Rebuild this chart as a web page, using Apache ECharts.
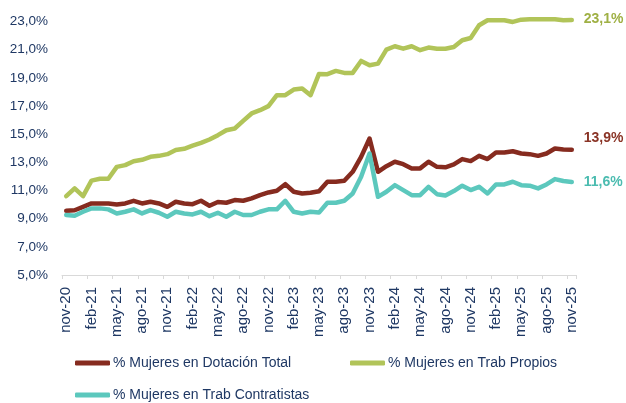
<!DOCTYPE html>
<html>
<head>
<meta charset="utf-8">
<script src="https://cdn.jsdelivr.net/npm/echarts@6/dist/echarts.min.js"></script>
<style>
  html, body { margin: 0; padding: 0; background: #fff; }
  #chart { width: 626px; height: 403px; }
</style>
</head>
<body>
<div id="chart"></div>
<script>
// meses (eje x)
var meses = [
  'nov-20','dic-20','ene-21','feb-21','mar-21','abr-21','may-21','jun-21','jul-21','ago-21','sep-21','oct-21',
  'nov-21','dic-21','ene-22','feb-22','mar-22','abr-22','may-22','jun-22','jul-22','ago-22','sep-22','oct-22',
  'nov-22','dic-22','ene-23','feb-23','mar-23','abr-23','may-23','jun-23','jul-23','ago-23','sep-23','oct-23',
  'nov-23','dic-23','ene-24','feb-24','mar-24','abr-24','may-24','jun-24','jul-24','ago-24','sep-24','oct-24',
  'nov-24','dic-24','ene-25','feb-25','mar-25','abr-25','may-25','jun-25','jul-25','ago-25','sep-25','oct-25',
  'nov-25'
];

// % Mujeres en Dotación Total
var dotacionTotal = [
  9.56, 9.6, 9.84, 10.08, 10.08, 10.08, 10.0, 10.08, 10.27, 10.08, 10.2, 10.08,
  9.84, 10.2, 10.08, 10.03, 10.27, 9.92, 10.18, 10.13, 10.32, 10.27, 10.44, 10.67,
  10.86, 10.98, 11.45, 10.91, 10.79, 10.84, 10.95, 11.62, 11.62, 11.69, 12.33, 13.39,
  14.69, 12.33, 12.73, 13.04, 12.87, 12.57, 12.57, 13.04, 12.68, 12.65, 12.85, 13.23,
  13.09, 13.46, 13.23, 13.7, 13.7, 13.79, 13.63, 13.58, 13.46, 13.63, 13.98, 13.91,
  13.9
];

// % Mujeres en Trab Propios
var trabPropios = [
  10.6, 11.15, 10.6, 11.7, 11.83, 11.83, 12.68, 12.8, 13.08, 13.18, 13.39, 13.46,
  13.58, 13.87, 13.96, 14.18, 14.38, 14.62, 14.93, 15.28, 15.4, 15.94, 16.47, 16.7,
  16.99, 17.77, 17.77, 18.17, 18.24, 17.77, 19.28, 19.26, 19.49, 19.35, 19.35, 20.2,
  19.89, 20.01, 21.0, 21.24, 21.07, 21.24, 20.96, 21.15, 21.07, 21.07, 21.19, 21.67,
  21.83, 22.73, 23.09, 23.09, 23.09, 22.97, 23.13, 23.16, 23.16, 23.16, 23.16, 23.09,
  23.1
];

// % Mujeres en Trab Contratistas
var trabContratistas = [
  9.26, 9.21, 9.49, 9.73, 9.73, 9.66, 9.37, 9.49, 9.66, 9.37, 9.61, 9.42,
  9.14, 9.49, 9.37, 9.3, 9.49, 9.18, 9.42, 9.14, 9.49, 9.26, 9.26, 9.49,
  9.66, 9.66, 10.27, 9.49, 9.37, 9.49, 9.43, 10.13, 10.13, 10.27, 10.79, 11.97,
  13.63, 10.55, 10.91, 11.38, 11.03, 10.67, 10.67, 11.26, 10.74, 10.65, 10.96, 11.34,
  11.03, 11.26, 10.79, 11.43, 11.43, 11.62, 11.38, 11.34, 11.15, 11.43, 11.81, 11.67,
  11.6
];

var nombres = ['% Mujeres en Dotación Total', '% Mujeres en Trab Propios', '% Mujeres en Trab Contratistas'];
var colores = ['#862b1f', '#b1c459', '#5cc8bd'];
var coloresEtiqueta = ['#8a3426', '#9fb044', '#4bbcb0'];
var azul = '#1f3864';
var fuente = 'Liberation Sans';

function pct(v) {
  return v.toFixed(1).replace('.', ',') + '%';
}

var chart = echarts.init(document.getElementById('chart'));

function leyenda(nombre, left, top) {
  return {
    data: [nombre],
    left: left,
    top: top,
    icon: 'roundRect',
    itemWidth: 35,
    itemHeight: 5,
    itemGap: 0,
    padding: 0,
    textStyle: { color: azul, fontFamily: fuente, fontSize: 14, padding: [0, 0, 0, -2] }
  };
}

function serie(i, datos, offsetY) {
  return {
    name: nombres[i],
    type: 'line',
    data: datos,
    symbol: 'none',
    clip: false,
    lineStyle: { width: 4.5, color: colores[i], cap: 'round', join: 'round' },
    itemStyle: { color: colores[i] },
    endLabel: {
      show: true,
      distance: 12,
      offset: [0, offsetY],
      color: coloresEtiqueta[i],
      fontFamily: fuente,
      fontSize: 14,
      fontWeight: 'bold',
      formatter: function (p) { return pct(p.value); }
    }
  };
}

var option = {
  animation: false,
  backgroundColor: '#fff',
  grid: { left: 62, right: 50, top: 21.5, bottom: 128 },
  legend: [
    leyenda(nombres[0], 75, 356),
    leyenda(nombres[1], 350, 356),
    leyenda(nombres[2], 75, 388)
  ],
  xAxis: {
    type: 'category',
    data: meses,
    boundaryGap: true,
    axisLine: { lineStyle: { color: '#d9d9d9', width: 1 } },
    axisTick: { show: true, interval: 2, length: 4, lineStyle: { color: '#d9d9d9' } },
    axisLabel: {
      interval: 2,
      rotate: 90,
      margin: 12,
      color: azul,
      fontFamily: fuente,
      fontSize: 15
    },
    splitLine: { show: false }
  },
  yAxis: {
    type: 'value',
    min: 5,
    max: 23,
    interval: 2,
    axisLine: { show: false },
    axisTick: { show: false },
    splitLine: { show: false },
    axisLabel: {
      margin: 14,
      color: azul,
      fontFamily: fuente,
      fontSize: 13.5,
      formatter: pct
    }
  },
  series: [
    serie(0, dotacionTotal, -12),
    serie(1, trabPropios, -1),
    serie(2, trabContratistas, 0)
  ]
};

chart.setOption(option);
</script>
</body>
</html>
